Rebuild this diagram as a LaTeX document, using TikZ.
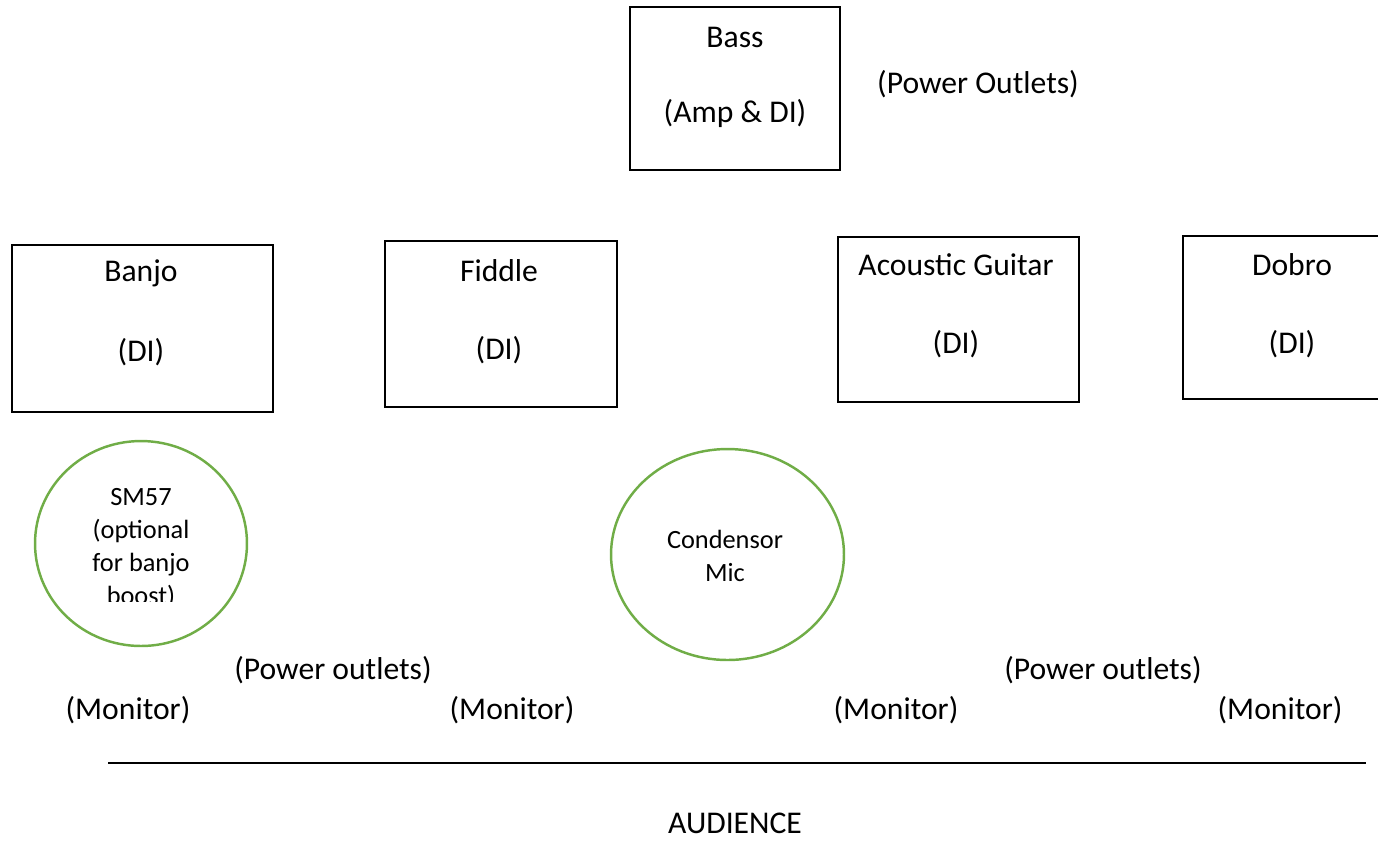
\documentclass[tikz,border=0pt]{standalone}
\usepackage{fontspec}
\setmainfont{Carlito}
\usepackage{tikz}
\usetikzlibrary{shapes,positioning}

\definecolor{micgreen}{HTML}{70AD47}

\begin{document}
\begin{tikzpicture}[
      x=0.02cm, y=-0.02cm,
      box/.style={draw, line width=0.7pt, inner sep=0pt},
      mic/.style={draw=micgreen, ellipse, line width=1.4pt, inner sep=0pt},
      lbl/.style={inner sep=0pt, font=\fontsize{18}{22}\selectfont},
      miclbl/.style={inner sep=0pt, align=center, font=\fontsize{15}{18.8}\selectfont}
    ]
    \useasboundingbox (0,0) rectangle (1378,840);
    % stage boxes
    \node[box, minimum width=4.2cm, minimum height=3.26cm] (bass) at (735,88.5) {};
    \node[lbl] (bassname) at (735,37) {Bass};
    \node[lbl] (bassdi) at (735,113) {(Amp \& DI)};
    \node[lbl] (outletstop) at (978,84) {(Power Outlets)};

    \node[box, minimum width=5.22cm, minimum height=3.34cm] (banjo) at (142.5,328.5) {};
    \node[lbl] (banjoname) at (141,273) {Banjo};
    \node[lbl] (banjodi) at (141,352) {(DI)};

    \node[box, minimum width=4.64cm, minimum height=3.32cm] (fiddle) at (501,324) {};
    \node[lbl] (fiddlename) at (499,271) {Fiddle};
    \node[lbl] (fiddledi) at (499,350) {(DI)};

    \node[box, minimum width=4.82cm, minimum height=3.30cm] (guitar) at (958.5,319.5) {};
    \node[lbl] (guitarname) at (956,265) {Acoustic Guitar};
    \node[lbl] (guitardi) at (956,344) {(DI)};

    \begin{scope}
      \clip (1100,200) rectangle (1378,420);
      \node[box, minimum width=4.34cm, minimum height=3.26cm] (dobro) at (1291.5,317.5) {};
    \end{scope}
    \node[lbl] (dobroname) at (1292,265) {Dobro};
    \node[lbl] (dobrodi) at (1292,344) {(DI)};

    % mics
    \node[mic, minimum width=4.24cm, minimum height=4.1cm] (sm57) at (141,543.5) {};
    \begin{scope}
      \clip (40,460) rectangle (240,601);
      \node[miclbl] (sm57txt) at (141,548) {SM57\\(optional\\for banjo\\boost)};
    \end{scope}
    \node[mic, minimum width=4.66cm, minimum height=4.22cm] (condensor) at (727.5,554.5) {};
    \node[miclbl] (condensortxt) at (725,556) {Condensor\\Mic};

    % front of stage
    \node[lbl] (outletsleft) at (333,670) {(Power outlets)};
    \node[lbl] (outletsright) at (1103,670) {(Power outlets)};
    \node[lbl] (monitora) at (128,710) {(Monitor)};
    \node[lbl] (monitorb) at (512,710) {(Monitor)};
    \node[lbl] (monitorc) at (896,710) {(Monitor)};
    \node[lbl] (monitord) at (1280,710) {(Monitor)};
    \coordinate (edgeleft) at (108,763);
    \coordinate (edgeright) at (1366,763);
    \draw[line width=1.5pt] (edgeleft) -- (edgeright);
    \node[lbl] (audience) at (735,823) {AUDIENCE};
  \end{tikzpicture}
\end{document}
